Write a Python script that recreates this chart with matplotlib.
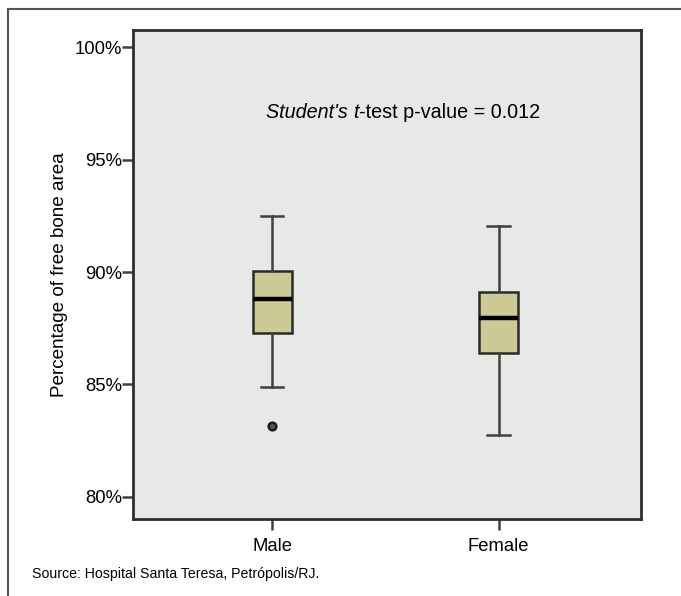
import matplotlib.pyplot as plt
from matplotlib.lines import Line2D

plt.rcParams['font.family'] = ['Liberation Sans', 'DejaVu Sans']

# box plot summary values
groups = ['Male', 'Female']
whisker_low = [84.9, 82.75]
q1 = [87.3, 86.4]
median = [88.8, 87.95]
q3 = [90.05, 89.1]
whisker_high = [92.5, 92.05]
outliers = [[83.15], []]

yticks = [80, 85, 90, 95, 100]

fig = plt.figure(figsize=(6.81, 5.96), dpi=100)
ax = fig.add_axes([133 / 681, 1 - 519 / 596, 508 / 681, 489 / 596])

stats = []
for i in range(len(groups)):
    stats.append({
        'label': groups[i],
        'whislo': whisker_low[i],
        'q1': q1[i],
        'med': median[i],
        'q3': q3[i],
        'whishi': whisker_high[i],
        'fliers': outliers[i],
    })

ax.bxp(stats, positions=[1, 2], widths=0.172, patch_artist=True,
       boxprops=dict(facecolor='#cccb96', edgecolor='#2a2a2a', linewidth=1.8),
       medianprops=dict(color='black', linewidth=3.2),
       whiskerprops=dict(color='#404040', linewidth=1.8),
       capprops=dict(color='#404040', linewidth=1.8),
       capwidths=0.1,
       flierprops=dict(marker='o', markersize=5.5, markerfacecolor='#555555',
                       markeredgecolor='#1a1a1a', markeredgewidth=1.8))

ax.set_facecolor('#e8e8e6')
ax.set_xlim(0.386, 2.628)
ax.set_ylim(79.02, 100.76)
ax.set_yticks(yticks)
ax.set_yticklabels([f'{v}%' for v in yticks])
ax.tick_params(axis='both', direction='out', length=8, width=1.8, color='#404040',
               labelsize=13.3, labelcolor='black', pad=0)
ax.tick_params(axis='x', pad=6)
for s in ax.spines.values():
    s.set_color('#2e2e2e')
    s.set_linewidth(2)
ax.set_ylabel('Percentage of free bone area', fontsize=13.6, labelpad=5)

# annotation with italic parts
t1 = ax.text(0.262, 0.82, "Student's ", transform=ax.transAxes, fontsize=14.2,
             style='italic', va='baseline')
t2 = ax.annotate('t', xycoords=t1, xy=(1, 0), va='bottom', fontsize=14.2, style='italic')
t3 = ax.annotate('-test p-value = 0.012', xycoords=t2, xy=(1, 0), va='bottom', fontsize=14.2)

fig.text(32 / 681, 1 - 574 / 596, 'Source: Hospital Santa Teresa, Petrópolis/RJ.',
         fontsize=10.2, va='center', ha='left')

# outer frame lines (left and top)
fig.add_artist(Line2D([8 / 681, 8 / 681], [0, 1 - 9 / 596], transform=fig.transFigure,
                      color='#555555', linewidth=1.5))
fig.add_artist(Line2D([8 / 681, 1], [1 - 9 / 596, 1 - 9 / 596], transform=fig.transFigure,
                      color='#555555', linewidth=1.5))

fig.savefig('out.png', dpi=100)
